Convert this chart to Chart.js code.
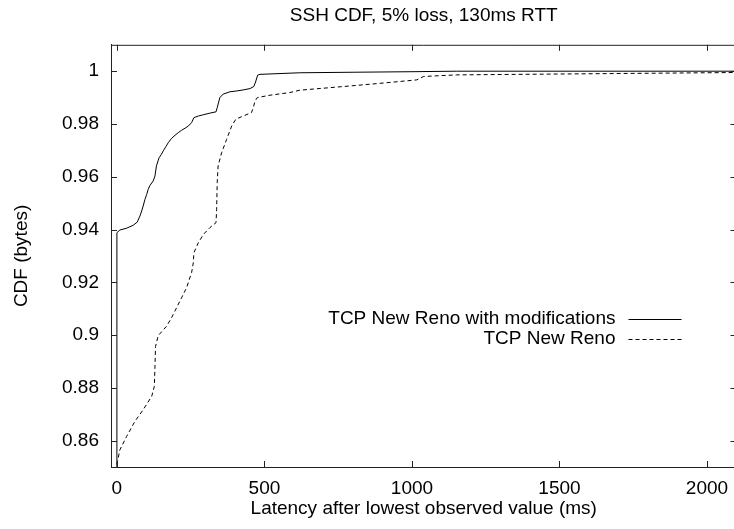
<!DOCTYPE html>
<html>
<head>
<meta charset="utf-8">
<script src="https://cdn.jsdelivr.net/npm/chart.js@4.4.0/dist/chart.umd.min.js"></script>
<style>
	html, body { margin: 0; padding: 0; background: #fff; overflow: hidden; }
	#wrap { width: 742px; height: 529px; }
</style>
</head>
<body>
<div id="wrap"><canvas id="myChart" width="742" height="529"></canvas></div>
<script>
/* Values. */
const latencyMod = [0, 0, 10, 33, 55, 69, 78, 84, 89, 95, 101, 106, 112, 123, 129, 134, 143, 151, 157, 166, 174, 185, 197, 208, 219, 231, 242, 253, 261, 276, 293, 315, 336, 340, 349, 360, 383, 406, 428, 451, 464, 470, 477, 485, 620, 800, 1000, 1150, 2100];
const cdfMod = [0.85, 0.9388, 0.9398, 0.9405, 0.9416, 0.9428, 0.9451, 0.9470, 0.9489, 0.9514, 0.9533, 0.9552, 0.9567, 0.9584, 0.9603, 0.9641, 0.9672, 0.9685, 0.9698, 0.9714, 0.9729, 0.9745, 0.9757, 0.9767, 0.9776, 0.9784, 0.9792, 0.9805, 0.9824, 0.9830, 0.9835, 0.9841, 0.9846, 0.9862, 0.9900, 0.9913, 0.9922, 0.9925, 0.9929, 0.9934, 0.9942, 0.9959, 0.9985, 0.9988, 0.9994, 0.9996, 0.9998, 1.0, 1.0];

const latencyReno = [0, 10, 33, 61, 89, 118, 127, 129, 131, 140, 168, 185, 202, 219, 236, 253, 259, 261, 276, 293, 315, 336, 338, 340, 343, 355, 372, 389, 403, 428, 456, 462, 468, 476, 519, 586, 620, 790, 892, 1016, 1040, 1152, 2100];
const cdfReno = [0.851, 0.8565, 0.8616, 0.8673, 0.8717, 0.8768, 0.8806, 0.8882, 0.8957, 0.8998, 0.9033, 0.9065, 0.9103, 0.9141, 0.9179, 0.9236, 0.9274, 0.9312, 0.9350, 0.9381, 0.9407, 0.9426, 0.9476, 0.9578, 0.9641, 0.9691, 0.9742, 0.9792, 0.9818, 0.9830, 0.9843, 0.9860, 0.9887, 0.9900, 0.9909, 0.9919, 0.9928, 0.9944, 0.9954, 0.9967, 0.9980, 0.9986, 0.9995];

const seriesLabels = ['TCP New Reno with modifications', 'TCP New Reno'];
const xTicks = [0, 500, 1000, 1500, 2000];
const yTicks = [1, 0.98, 0.96, 0.94, 0.92, 0.9, 0.88, 0.86];

const fontFamily = "'Liberation Sans', Arial, sans-serif";
const fontSize = 19;

function toPoints(xs, ys) {
	return xs.map((x, i) => ({ x: x, y: ys[i] }));
}

/* gnuplot-like frame, inward ticks and key */
const gnuplotFrame = {
	id: 'gnuplotFrame',
	afterDraw(chart) {
		const ctx = chart.ctx;
		const { left, right, top, bottom } = chart.chartArea;
		const xs = chart.scales.x;
		const ys = chart.scales.y;
		const t = 6;
		ctx.save();
		ctx.strokeStyle = '#222';
		ctx.lineWidth = 1;
		ctx.beginPath();
		ctx.moveTo(left, top + 0.5);
		ctx.lineTo(right, top + 0.5);
		ctx.moveTo(right - 0.5, top);
		ctx.lineTo(right - 0.5, bottom);
		xTicks.forEach((v) => {
			const px = Math.round(xs.getPixelForValue(v)) + 0.5;
			ctx.moveTo(px, bottom);
			ctx.lineTo(px, bottom - t);
			ctx.moveTo(px, top);
			ctx.lineTo(px, top + t);
		});
		yTicks.forEach((v) => {
			const py = Math.round(ys.getPixelForValue(v)) + 0.5;
			ctx.moveTo(left, py);
			ctx.lineTo(left + t, py);
			ctx.moveTo(right, py);
			ctx.lineTo(right - t, py);
		});
		ctx.stroke();

		// key
		ctx.font = fontSize + 'px ' + fontFamily;
		ctx.fillStyle = '#000';
		ctx.textAlign = 'right';
		ctx.textBaseline = 'middle';
		chart.data.datasets.forEach((ds, i) => {
			const y = top + 274 + i * 20;
			ctx.fillText(ds.label, right - 121, y);
			ctx.beginPath();
			ctx.setLineDash(ds.borderDash || []);
			ctx.strokeStyle = '#000';
			ctx.moveTo(right - 108, Math.round(y) + 0.5);
			ctx.lineTo(right - 55, Math.round(y) + 0.5);
			ctx.stroke();
		});
		ctx.restore();
	},
};

Chart.defaults.font.family = fontFamily;
Chart.defaults.font.size = fontSize;
Chart.defaults.color = '#000';

const chartContainer = document.getElementById('myChart').getContext('2d');
const chartConfig = {
	type: 'scatter',
	data: {
		datasets: [
			{
				label: seriesLabels[0],
				data: toPoints(latencyMod, cdfMod),
				showLine: true,
				borderColor: '#000',
				borderWidth: 1,
				pointRadius: 0,
				tension: 0,
			},
			{
				label: seriesLabels[1],
				data: toPoints(latencyReno, cdfReno),
				showLine: true,
				borderColor: '#000',
				borderWidth: 1,
				borderDash: [4, 3],
				pointRadius: 0,
				tension: 0,
			},
		],
	},
	options: {
		responsive: false,
		animation: false,
		devicePixelRatio: 1,
		layout: {
			padding: { left: 0, right: 5.5, top: 0, bottom: 0 },
		},
		scales: {
			x: {
				type: 'linear',
				min: -20,
				max: 2100,
				afterFit: (s) => { s.height = 62; },
				afterBuildTicks: (s) => { s.ticks = xTicks.map((v) => ({ value: v })); },
				grid: { drawOnChartArea: false, drawTicks: false },
				border: { display: true, color: '#222', width: 1 },
				ticks: { padding: 10, maxRotation: 0, callback: (v) => String(v) },
				title: {
					display: true,
					text: 'Latency after lowest observed value (ms)',
					padding: { top: 0, bottom: 9 },
				},
			},
			y: {
				type: 'linear',
				min: 0.85,
				max: 1.01,
				afterFit: (s) => { s.width = 111; },
				afterBuildTicks: (s) => { s.ticks = yTicks.map((v) => ({ value: v })); },
				grid: { drawOnChartArea: false, drawTicks: false },
				border: { display: true, color: '#222', width: 1 },
				ticks: { padding: 12, callback: (v) => String(+v.toFixed(2)) },
				title: {
					display: true,
					text: 'CDF (bytes)',
					padding: { top: 10, bottom: 0 },
				},
			},
		},
		plugins: {
			legend: { display: false },
			tooltip: { enabled: false },
			title: {
				display: true,
				text: 'SSH CDF, 5% loss, 130ms RTT',
				fullSize: false,
				font: { size: fontSize, weight: 'normal' },
				padding: { top: 4, bottom: 18 },
			},
		},
	},
	plugins: [gnuplotFrame],
};

const myChart = new Chart(chartContainer, chartConfig);
</script>
</body>
</html>
